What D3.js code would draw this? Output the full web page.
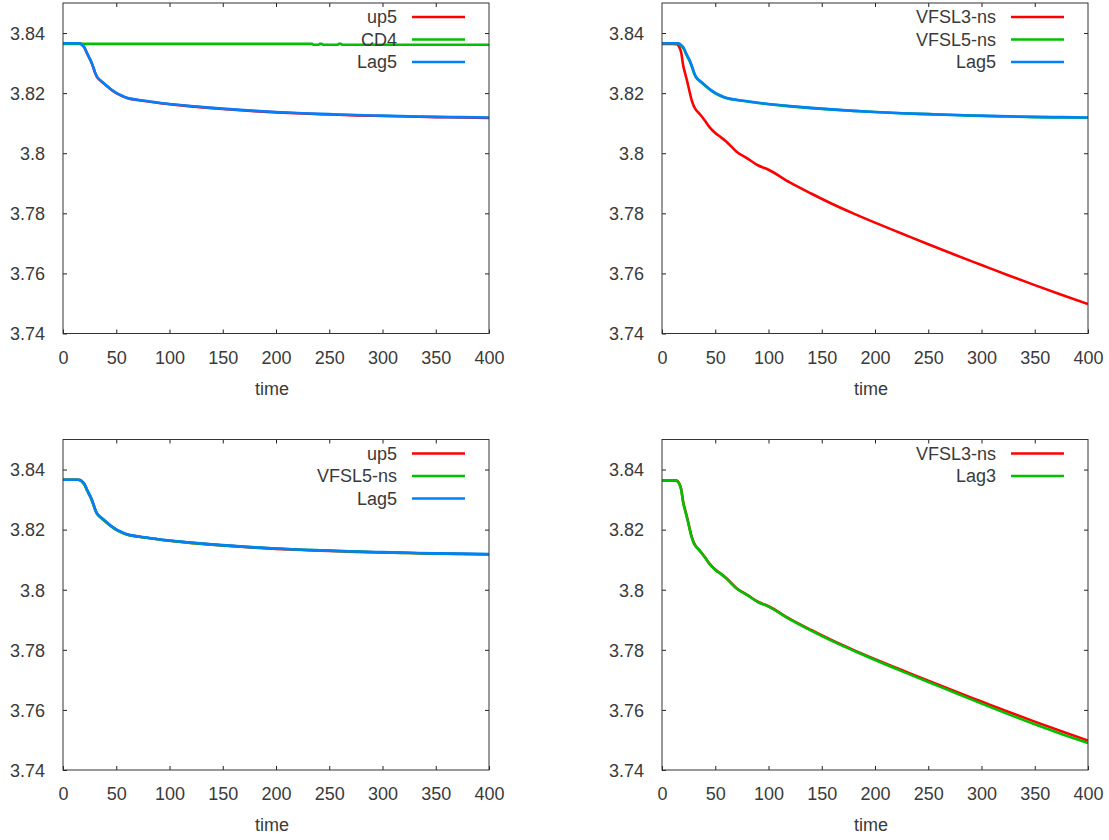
<!DOCTYPE html>
<html><head><meta charset="utf-8">
<script src="https://cdn.jsdelivr.net/npm/d3@7"></script>
<style>body{margin:0;background:#fff}svg{display:block}</style>
</head><body>
<svg id="c" width="1109" height="840"></svg>
<script>
// ---- data ----
const time = [0,5,10,14,16,18,20,22,24,26,28,30,32,34,36,40,45,50,55,60,70,80,90,100,120,140,160,180,200,225,250,275,300,325,350,375,400];
const lag5  = [3.8366,3.8366,3.8366,3.8366,3.8365,3.8360,3.8353,3.8338,3.8323,3.8309,3.8291,3.8270,3.8254,3.8246,3.8240,3.8228,3.8213,3.8201,3.8192,3.8185,3.8178,3.8173,3.8168,3.8164,3.8157,3.8151,3.8146,3.8141,3.8137,3.8133,3.8130,3.8127,3.8125,3.8123,3.8121,3.8120,3.8119];
const up5   = [3.8366,3.8366,3.8366,3.8366,3.8365,3.8360,3.8352,3.8337,3.8322,3.8308,3.8290,3.8269,3.8253,3.8245,3.8239,3.8227,3.8212,3.8200,3.8191,3.8184,3.8177,3.8172,3.8167,3.8163,3.8156,3.8150,3.8145,3.8140,3.8136,3.8132,3.8129,3.8126,3.8124,3.8122,3.8120,3.8119,3.8117];
const vfsl5 = [3.8366,3.8366,3.8366,3.8366,3.8364,3.8358,3.8350,3.8335,3.8320,3.8306,3.8288,3.8267,3.8252,3.8244,3.8238,3.8226,3.8211,3.8199,3.8190,3.8184,3.8177,3.8172,3.8167,3.8163,3.8156,3.8150,3.8145,3.8141,3.8137,3.8133,3.8130,3.8127,3.8124,3.8122,3.8120,3.8119,3.8118];
const vfsl3 = [3.8364,3.8364,3.8364,3.8363,3.8355,3.8335,3.8290,3.8262,3.8234,3.8203,3.8175,3.8156,3.8144,3.8136,3.8128,3.8110,3.8085,3.8067,3.8054,3.8040,3.8005,3.7983,3.7960,3.7945,3.7903,3.7866,3.7831,3.7799,3.7769,3.7733,3.7697,3.7662,3.7628,3.7594,3.7561,3.7529,3.7498];
const lag3  = [3.8364,3.8364,3.8364,3.8362,3.8354,3.8333,3.8288,3.8260,3.8232,3.8201,3.8173,3.8154,3.8143,3.8135,3.8127,3.8109,3.8084,3.8066,3.8053,3.8039,3.8004,3.7982,3.7959,3.7944,3.7901,3.7864,3.7829,3.7797,3.7766,3.7729,3.7693,3.7657,3.7621,3.7586,3.7552,3.7520,3.7490];
const cd4Time = [0,100,200,234,235,240,241,243,244,258,259,261,262,300,400];
const cd4     = [3.8364,3.8364,3.8364,3.8364,3.8361,3.8361,3.8364,3.8364,3.8361,3.8361,3.8364,3.8364,3.8361,3.8361,3.8361];

const xTicks = [0,50,100,150,200,250,300,350,400];
const yTicks = [3.74,3.76,3.78,3.8,3.82,3.84];
const yTickLabels = ["3.74","3.76","3.78","3.8","3.82","3.84"];
const xLabel = "time";

const RED = "#ff0000", GREEN = "#00c000", BLUE = "#0080ff";

const panels = [
  {x0:63, y0:3,   series:[{name:"up5",t:time,v:up5,c:RED},{name:"CD4",t:cd4Time,v:cd4,c:GREEN},{name:"Lag5",t:time,v:lag5,c:BLUE}]},
  {x0:662,y0:3,   series:[{name:"VFSL3-ns",t:time,v:vfsl3,c:RED},{name:"VFSL5-ns",t:time,v:vfsl5,c:GREEN},{name:"Lag5",t:time,v:lag5,c:BLUE}]},
  {x0:63, y0:439.5,series:[{name:"up5",t:time,v:up5,c:RED},{name:"VFSL5-ns",t:time,v:vfsl5,c:GREEN},{name:"Lag5",t:time,v:lag5,c:BLUE}]},
  {x0:662,y0:439.5,series:[{name:"VFSL3-ns",t:time,v:vfsl3,c:RED},{name:"Lag3",t:time,v:lag3,c:GREEN}]}
];
const W = 426, H = 330.5;
const svg = d3.select("#c");
const font = "'Liberation Sans', Arial, sans-serif";
const txtCol = "#3a3a3a";

panels.forEach(p => {
  const g = svg.append("g").attr("transform", `translate(${p.x0},${p.y0})`);
  const x = d3.scaleLinear().domain([0,400]).range([0,W]);
  const y = d3.scaleLinear().domain([3.74,3.85]).range([H,0]);

  const id = "clip" + p.x0 + "_" + Math.round(p.y0);
  g.append("clipPath").attr("id", id).append("rect").attr("width", W).attr("height", H);

  const lines = g.append("g").attr("clip-path", `url(#${id})`);
  p.series.forEach(s => {
    const pts = s.t.map((t,i) => [t, s.v[i]]);
    lines.append("path").datum(pts)
      .attr("fill","none").attr("stroke", s.c).attr("stroke-width", 2.6)
      .attr("stroke-linejoin","round")
      .attr("d", d3.line().curve(d3.curveMonotoneX).x(d => x(d[0])).y(d => y(d[1])));
  });

  const styleAxis = a => { a.select(".domain").remove(); a.selectAll("line").attr("stroke","#222"); a.selectAll("text").attr("fill", txtCol).attr("font-family", font).attr("font-size", 18); };
  const bottom = g.append("g").attr("transform", `translate(0,${H})`)
    .call(d3.axisBottom(x).tickValues(xTicks).tickSize(-4).tickFormat(d => String(d)));
  styleAxis(bottom);
  bottom.selectAll("text").attr("dy", null).attr("y", 30);
  const top = g.append("g").call(d3.axisTop(x).tickValues(xTicks.slice(1,-1)).tickSize(-4).tickFormat(""));
  styleAxis(top);
  const left = g.append("g")
    .call(d3.axisLeft(y).tickValues(yTicks).tickSize(-4).tickFormat((d,i) => yTickLabels[i]));
  styleAxis(left);
  left.selectAll("text").attr("dy", "0.35em").attr("x", -18);
  const right = g.append("g").attr("transform", `translate(${W},0)`)
    .call(d3.axisRight(y).tickValues(yTicks.slice(1)).tickSize(-4).tickFormat(""));
  styleAxis(right);

  g.append("rect").attr("x",0).attr("y",0).attr("width",W).attr("height",H)
    .attr("fill","none").attr("stroke","#333").attr("stroke-width",1);

  g.append("text").attr("x", W/2 - 4).attr("y", H + 61).attr("text-anchor","middle")
    .attr("font-family", font).attr("font-size", 18).attr("fill", txtCol).text(xLabel);

  p.series.forEach((s,i) => {
    const ly = 14 + i*22.5;
    g.append("text").attr("x", W - 92).attr("y", ly).attr("dy","0.35em").attr("text-anchor","end")
      .attr("font-family", font).attr("font-size", 18).attr("fill", txtCol).text(s.name);
    g.append("line").attr("x1", W - 77).attr("x2", W - 24).attr("y1", ly).attr("y2", ly)
      .attr("stroke", s.c).attr("stroke-width", 2.6);
  });
});
</script>
</body></html>
